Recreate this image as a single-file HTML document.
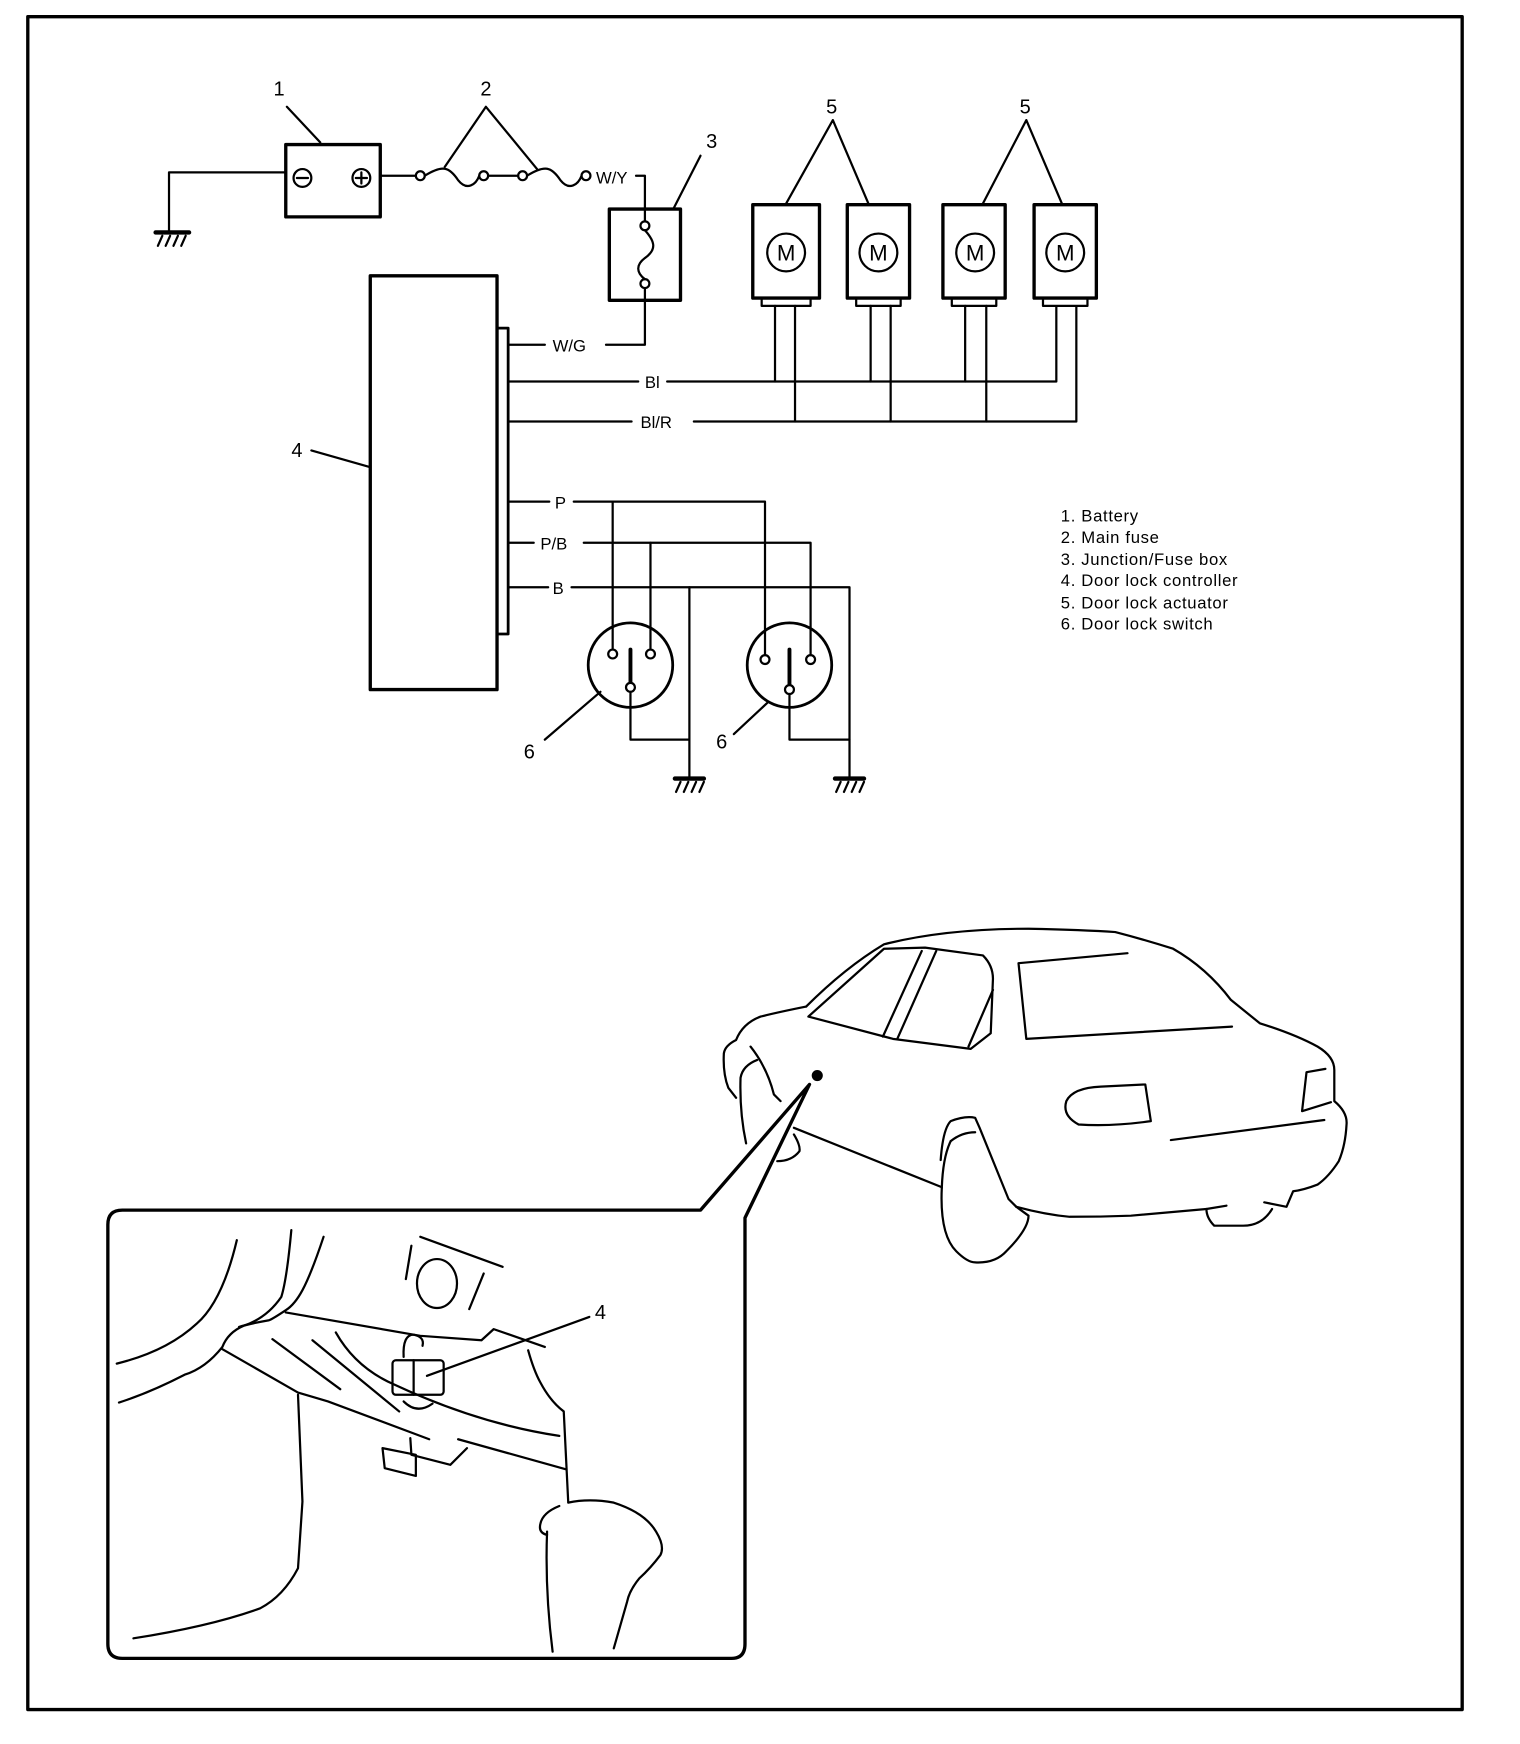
<!DOCTYPE html>
<html><head><meta charset="utf-8"><style>
html,body{margin:0;padding:0;background:#fff}
svg{display:block}
text{font-family:"Liberation Sans",sans-serif;fill:#000}
</style></head><body>
<svg width="1520" height="1744" viewBox="0 0 1367 1568" preserveAspectRatio="none" xmlns="http://www.w3.org/2000/svg">
<g fill="none" stroke="#000" stroke-width="2" stroke-linecap="round" stroke-linejoin="round">
<rect x="25" y="15" width="1290" height="1522" stroke-width="3"/>
<!-- ground 1 -->
<path d="M257 155 H152 V208"/>
<path d="M140 209 H170" stroke-width="4"/>
<path d="M146 212 l-4 9 M153 212 l-4 9 M160 212 l-4 9 M167 212 l-4 9"/>
<!-- battery -->
<rect x="257" y="130" width="85" height="65" stroke-width="3"/>
<circle cx="272" cy="160" r="8"/><path d="M267 160 h10"/>
<circle cx="325" cy="160" r="8"/><path d="M320 160 h10 M325 155 v10"/>
<path d="M258 96 L288 128"/>
<!-- main fuse -->
<path d="M342 158 H374"/>
<circle cx="378" cy="158" r="4"/><circle cx="435" cy="158" r="4"/>
<circle cx="470" cy="158" r="4"/><circle cx="527" cy="158" r="4"/>
<path d="M382 158 C398 148 404 150 412 162 C420 172 428 166 431 158"/>
<path d="M439 158 H466"/>
<path d="M474 158 C490 148 496 150 504 162 C512 172 520 166 523 158"/>
<path d="M437 96 L400 150 M437 96 L483 152"/>
<!-- junction box -->
<path d="M572 158 H580 V199"/>
<rect x="548" y="188" width="64" height="82" stroke-width="3"/>
<circle cx="580" cy="203" r="4"/><circle cx="580" cy="255" r="4"/>
<path d="M580 207 C590 218 590 225 580 232 C572 238 572 245 580 251"/>
<path d="M580 259 V310 H545"/>
<path d="M630 140 L606 187"/>
<!-- controller -->
<rect x="333" y="248" width="114" height="372" stroke-width="3"/>
<rect x="447" y="295" width="10" height="275" stroke-width="2.5"/>
<path d="M280 405 L333 420"/>
<path d="M457 310 H490"/>
<path d="M457 343 H574 M600 343 H950 V276"/>
<path d="M457 379 H568 M624 379 H968 V276"/>
<!-- actuators -->
<rect x="677" y="184" width="60" height="84" stroke-width="3"/><rect x="685" y="268" width="44" height="7"/><circle cx="707" cy="227" r="17"/>
<rect x="762" y="184" width="56" height="84" stroke-width="3"/><rect x="770" y="268" width="40" height="7"/><circle cx="790" cy="227" r="17"/>
<rect x="848" y="184" width="56" height="84" stroke-width="3"/><rect x="856" y="268" width="40" height="7"/><circle cx="877" cy="227" r="17"/>
<rect x="930" y="184" width="56" height="84" stroke-width="3"/><rect x="938" y="268" width="40" height="7"/><circle cx="958" cy="227" r="17"/>
<path d="M697 275 V343 M715 275 V379 M783 275 V343 M801 275 V379 M868 275 V343 M887 275 V379"/>
<path d="M749 108 L707 183 M749 108 L781 183 M923 108 L884 183 M923 108 L955 183"/>
<!-- switch wires -->
<path d="M457 451 H494 M516 451 H688 V589"/>
<path d="M457 488 H480 M525 488 H729 V589"/>
<path d="M457 528 H493 M514 528 H764 V700"/>
<path d="M551 451 V583 M585 488 V583 M620 528 V700"/>
<circle cx="567" cy="598" r="38" stroke-width="2.5"/>
<circle cx="710" cy="598" r="38" stroke-width="2.5"/>
<circle cx="551" cy="588" r="4"/><circle cx="585" cy="588" r="4"/><circle cx="567" cy="618" r="4"/>
<circle cx="688" cy="593" r="4"/><circle cx="729" cy="593" r="4"/><circle cx="710" cy="620" r="4"/>
<path d="M567 584 V613 M710 584 V615" stroke-width="3.5"/>
<path d="M567 622 V665 H620 M710 624 V665 H764"/>
<path d="M607 700 H633 M751 700 H777" stroke-width="4"/>
<path d="M612 703 l-4 9 M619 703 l-4 9 M626 703 l-4 9 M633 703 l-4 9 M756 703 l-4 9 M763 703 l-4 9 M770 703 l-4 9 M777 703 l-4 9"/>
<path d="M490 665 L540 622 M660 660 L690 632"/>
<!-- inset frame -->
<path d="M630 1088 H110 Q97 1088 97 1101 V1478 Q97 1491 110 1491 H658 Q670 1491 670 1478 V1095 L728 975 L630 1088 Z" stroke-width="3"/>
<!-- inset drawing -->
<path d="M213 1115 Q200 1170 177 1190 Q150 1215 105 1226"/>
<path d="M262 1106 Q258 1150 253 1166 Q240 1185 219 1192 Q205 1198 200 1211 Q185 1230 166 1236 Q135 1252 107 1261"/>
<path d="M291 1112 Q280 1145 272 1160 Q265 1173 257 1178 Q245 1186 242 1187 Q225 1190 215 1193"/>
<path d="M257 1180 L378 1201 L433 1205 L444 1195 L490 1211"/>
<path d="M200 1213 L268 1252 L295 1260 L386 1294 M412 1294 L509 1321"/>
<path d="M268 1254 L272 1350 L268 1410 Q255 1435 234 1446 Q190 1462 120 1473"/>
<path d="M245 1204 L306 1249 M281 1205 L359 1269 M302 1198 Q320 1230 355 1245 Q430 1280 503 1291"/>
<path d="M475 1214 Q480 1232 486 1243 Q495 1260 507 1269 L511 1350"/>
<path d="M511 1351 Q530 1347 552 1351 Q580 1360 590 1377 Q598 1390 594 1398 Q585 1410 575 1419 Q566 1430 564 1440 L552 1482"/>
<path d="M492 1377 Q490 1430 497 1485"/>
<path d="M503 1354 Q488 1360 486 1370 Q484 1378 492 1380"/>
<ellipse cx="393" cy="1154" rx="18" ry="22"/>
<path d="M378 1112 L452 1139 M370 1120 L365 1150 M435 1145 L422 1177"/>
<rect x="353" y="1223" width="46" height="31" rx="3"/>
<path d="M372 1223 V1254"/>
<path d="M363 1220 Q362 1200 372 1200 Q382 1202 380 1210"/>
<path d="M363 1260 Q375 1272 389 1262"/>
<path d="M530 1184 L384 1237"/>
<path d="M344 1302 L374 1308 L374 1327 L346 1320 Z M369 1293 L370 1308 L405 1317 L420 1302"/>
<!-- car -->
<path d="M725 905 Q760 870 795 849 Q850 835 925 835 Q975 836 1003 838 Q1030 845 1055 853 Q1085 870 1107 899 L1133 920 Q1165 930 1185 941 Q1200 950 1200 962 L1200 990 Q1212 1000 1211 1011 Q1210 1030 1204 1044 Q1195 1058 1185 1065 Q1172 1070 1163 1071 L1157 1085 L1137 1081"/>
<path d="M1144 1087 Q1135 1102 1118 1102 L1092 1102 Q1085 1095 1085 1087 L1103 1084"/>
<path d="M914 1085 Q940 1092 962 1094 Q990 1094 1017 1093 L1085 1087"/>
<path d="M846 1043 Q848 1015 855 1008 Q868 1003 877 1005 L881 1014 L907 1078 L914 1085"/>
<path d="M855 1026 Q865 1018 877 1018 M847 1068 Q845 1110 860 1125 Q870 1135 877 1135 Q895 1136 905 1125 Q925 1105 925 1093 L914 1085"/>
<path d="M847 1068 Q848 1040 855 1026"/>
<path d="M714 1014 L846 1067"/>
<path d="M714 1020 Q720 1030 719 1035 Q712 1044 699 1044"/>
<path d="M675 941 Q690 960 696 984 L702 990"/>
<path d="M681 953 Q668 958 666 969 Q665 1000 671 1028"/>
<path d="M725 905 Q700 910 684 914 Q668 920 662 935 Q652 940 651 947 Q650 965 655 978 L662 987"/>
<path d="M727 914 L795 853 L832 852 L884 859 Q893 868 893 880 L891 929 L873 943 L803 934 Z"/>
<path d="M794 932 L829 855 M807 934 L842 855 M871 941 L893 890"/>
<path d="M916 866 L1014 857 M916 866 L923 934 L1108 923"/>
<path d="M959 990 Q965 978 990 977 L1030 975 L1035 1008 Q1000 1013 970 1011 Q955 1003 959 990 Z"/>
<path d="M1192 961 L1175 964 L1171 999 L1197 991"/>
<path d="M1053 1025 L1191 1007"/>
<circle cx="735" cy="967" r="4" fill="#000"/>
</g>
<g font-size="18">
<text x="246" y="86">1</text><text x="432" y="86">2</text><text x="635" y="133">3</text>
<text x="262" y="411">4</text><text x="743" y="102">5</text><text x="917" y="102">5</text>
<text x="471" y="682">6</text><text x="644" y="673">6</text><text x="535" y="1186">4</text>
</g>
<g font-size="15">
<text x="536" y="165">W/Y</text>
<text x="497" y="316">W/G</text>
<text x="580" y="349">Bl</text>
<text x="576" y="385">Bl/R</text>
<text x="499" y="457">P</text>
<text x="486" y="494">P/B</text>
<text x="497" y="534">B</text>
</g>
<g font-size="15" letter-spacing="0.6">
<text x="954" y="469">1.  Battery</text>
<text x="954" y="488">2.  Main  fuse</text>
<text x="954" y="508">3.  Junction/Fuse  box</text>
<text x="954" y="527">4.  Door  lock  controller</text>
<text x="954" y="547">5.  Door  lock  actuator</text>
<text x="954" y="566">6.  Door  lock  switch</text>
</g>
<g font-size="20" text-anchor="middle">
<text x="707" y="234">M</text><text x="790" y="234">M</text><text x="877" y="234">M</text><text x="958" y="234">M</text>
</g>
</svg>
</body></html>
